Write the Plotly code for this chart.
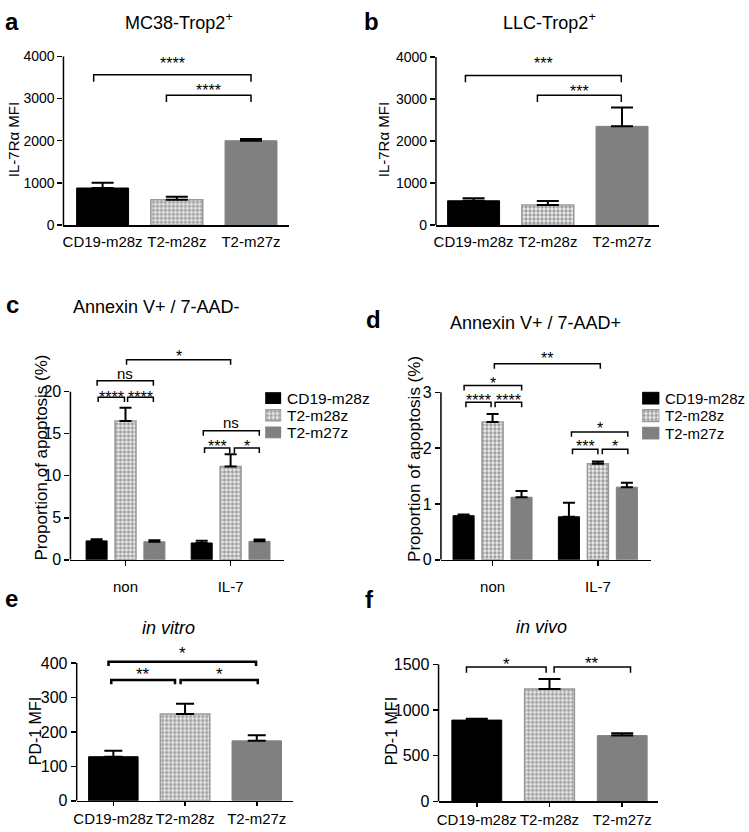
import plotly.graph_objects as go

W, H = 749, 832
FONT = "Liberation Sans, Arial, sans-serif"

# ---------------- data ----------------
groups = ["CD19-m28z", "T2-m28z", "T2-m27z"]
conditions = ["non", "IL-7"]

a_mean = [880, 600, 2000]
a_sem = [125, 75, 40]
b_mean = [580, 480, 2350]
b_sem = [60, 95, 450]

# panel c: Annexin V+ / 7-AAD-  (per group: [non, IL-7])
c_cd19 = [2.25, 2.0]
c_cd19_sem = [0.2, 0.28]
c_t2m28 = [16.5, 11.1]
c_t2m28_sem = [1.6, 1.45]
c_t2m27 = [2.15, 2.2]
c_t2m27_sem = [0.17, 0.2]

# panel d: Annexin V+ / 7-AAD+
d_cd19 = [0.79, 0.77]
d_cd19_sem = [0.02, 0.25]
d_t2m28 = [2.47, 1.72]
d_t2m28_sem = [0.14, 0.04]
d_t2m27 = [1.12, 1.30]
d_t2m27_sem = [0.11, 0.08]

e_mean = [128, 252, 174]
e_sem = [17, 30, 16]
f_mean = [890, 1230, 720]
f_sem = [15, 110, 25]

a_ticks = [0, 1000, 2000, 3000, 4000]
b_ticks = [0, 1000, 2000, 3000, 4000]
c_ticks = [0, 5, 10, 15, 20]
d_ticks = [0, 1, 2, 3]
e_ticks = [0, 100, 200, 300, 400]
f_ticks = [0, 500, 1000, 1500]

# significance brackets: (x_start, x_end, y, label)
a_sig = [(-0.12, 2.0, 3560, "****"), (0.86, 2.0, 3080, "****")]
b_sig = [(-0.11, 1.99, 3560, "***"), (0.86, 1.99, 3090, "***")]
c_sig = [(0.01, 1.0, 23.8, "*"), (-0.27, 0.265, 21.3, "ns"),
         (-0.26, -0.01, 19.35, "****"), (0.02, 0.265, 19.35, "****"),
         (0.74, 1.273, 15.35, "ns"), (0.752, 0.992, 13.3, "***"),
         (1.036, 1.273, 13.3, "*")]
d_sig = [(0.017, 1.023, 3.51, "**"), (-0.27, 0.276, 3.12, "*"),
         (-0.253, -0.014, 2.82, "****"), (0.024, 0.276, 2.82, "****"),
         (0.749, 1.284, 2.29, "*"), (0.759, 1.0, 1.98, "***"),
         (1.042, 1.284, 1.98, "*")]
e_sig = [(-0.067, 1.99, 404, "*"), (-0.029, 0.86, 351, "**"), (0.938, 2.014, 351, "*")]
f_sig = [(-0.142, 0.953, 1471, "*"), (1.063, 2.114, 1471, "**")]

# ---------------- styles ----------------
STYLE = {
    "CD19-m28z": dict(color="#000000", line=dict(color="#000000", width=1)),
    "T2-m28z": dict(color="#ffffff", line=dict(color="#9a9a9a", width=1.5),
                    pattern=dict(shape=".", size=4, solidity=0.55,
                                 fgcolor="#9c9c9c", bgcolor="#f2f2f2",
                                 fillmode="replace")),
    "T2-m27z": dict(color="#808080", line=dict(color="#808080", width=1)),
}


def px_x(p):
    return p / W


def px_y(p):
    return 1 - p / H


fig = go.Figure()

# panel layout specs (pixel boxes)
panels = {
    1: dict(box=(60.7, 287, 49.3, 221.7), tick_top_px=49.3, ticks=a_ticks,
            xr=(-0.5275, 2.51), xfont=15, yfont=14, xticks="", xticklen=5, cap=11,
            drop=7, lw=1.5, gaps=[15, 8], standoff=2, sfont=16),
    2: dict(box=(434.7, 659, 50, 221.7), tick_top_px=50, ticks=b_ticks,
            xr=(-0.507, 2.503), xfont=15, yfont=14, xticks="", xticklen=5, cap=11,
            drop=7, lw=1.5, gaps=[15.7, 7.7], standoff=2, sfont=16),
    3: dict(box=(67.7, 281.7, 345, 563.3), tick_top_px=391.7, ticks=c_ticks,
            xr=(-0.524, 1.504), xfont=15, yfont=16, xticks="outside", xticklen=5, cap=6,
            drop=5, lw=1.5, gaps=[7.6, 6.4, 4, 4, 7.4, 5.7, 5.7], standoff=8, sfont=16),
    4: dict(box=(439.7, 650.7, 350, 563.3), tick_top_px=392.3, ticks=d_ticks,
            xr=(-0.49, 1.505), xfont=15, yfont=16, xticks="outside", xticklen=5, cap=6,
            drop=5, lw=1.5, gaps=[9.3, 6.4, 5.4, 5.4, 7, 6.7, 6.7], standoff=8, sfont=16),
    5: dict(box=(74, 291, 660, 809.3), tick_top_px=668.7, ticks=e_ticks,
            xr=(-0.511, 2.503), xfont=15, yfont=16, xticks="outside", xticklen=4, cap=9,
            drop=4.5, lw=2.5, gaps=[12.3, 9.3, 9.3], standoff=0, sfont=17),
    6: dict(box=(437.3, 658, 670, 810), tick_top_px=670, ticks=f_ticks,
            xr=(-0.526, 2.497), xfont=15, yfont=16, xticks="outside", xticklen=4, cap=11,
            drop=6, lw=1.5, gaps=[6.7, 7.7], standoff=0, sfont=17),
}


def ax_names(n):
    return ("x" if n == 1 else f"x{n}"), ("y" if n == 1 else f"y{n}")


def add_single_panel(n, means, sems, width):
    xa, ya = ax_names(n)
    cap = panels[n]["cap"]
    for g, m, s in zip(groups, means, sems):
        fig.add_trace(go.Bar(
            x=[g], y=[m], width=width, xaxis=xa, yaxis=ya, showlegend=False,
            marker=STYLE[g],
            error_y=dict(type="data", array=[s], arrayminus=[0], symmetric=False,
                         color="black", thickness=2, width=cap),
            hoverinfo="skip"))


def add_group_panel(n, series):
    xa, ya = ax_names(n)
    cap = panels[n]["cap"]
    bw = 0.2
    step = 0.275
    for k, (g, (m, s)) in enumerate(zip(groups, series)):
        fig.add_trace(go.Bar(
            x=conditions, y=m, width=bw, offset=(k - 1) * step - bw / 2,
            xaxis=xa, yaxis=ya, name=g, showlegend=False,
            marker=STYLE[g],
            error_y=dict(type="data", array=s, arrayminus=[0] * len(s), symmetric=False,
                         color="black", thickness=2, width=cap),
            hoverinfo="skip"))


add_single_panel(1, a_mean, a_sem, 0.70)
add_single_panel(2, b_mean, b_sem, 0.70)
add_group_panel(3, [(c_cd19, c_cd19_sem), (c_t2m28, c_t2m28_sem), (c_t2m27, c_t2m27_sem)])
add_group_panel(4, [(d_cd19, d_cd19_sem), (d_t2m28, d_t2m28_sem), (d_t2m27, d_t2m27_sem)])
add_single_panel(5, e_mean, e_sem, 0.69)
add_single_panel(6, f_mean, f_sem, 0.685)

layout = dict(
    width=W, height=H, margin=dict(l=0, r=0, t=0, b=0, pad=0),
    paper_bgcolor="white", plot_bgcolor="white",
    font=dict(family=FONT, color="black", size=15),
    barmode="overlay", showlegend=False,
)

sig_sets = {1: a_sig, 2: b_sig, 3: c_sig, 4: d_sig, 5: e_sig, 6: f_sig}
shapes = []
annotations = []

for n, p in panels.items():
    l, r, t, b = p["box"]
    ymax_tick = p["ticks"][-1]
    upp = ymax_tick / (b - p["tick_top_px"])  # data units per pixel
    ymax = upp * (b - t)
    xa, ya = ax_names(n)
    cats = conditions if n in (3, 4) else groups
    layout["xaxis" if n == 1 else f"xaxis{n}"] = dict(
        domain=[px_x(l), px_x(r)], anchor=ya, type="category",
        categoryorder="array", categoryarray=cats, range=list(p["xr"]),
        showline=True, linecolor="black", linewidth=1.5, ticks=p["xticks"],
        ticklen=p["xticklen"], tickwidth=1.5, tickcolor="black", showgrid=False,
        zeroline=False, tickangle=0, tickfont=dict(size=p["xfont"]),
        ticklabelstandoff=p["standoff"], fixedrange=True)
    layout["yaxis" if n == 1 else f"yaxis{n}"] = dict(
        domain=[px_y(b), px_y(t)], anchor=xa, range=[0, ymax],
        tickvals=p["ticks"], ticks="outside", ticklen=5, tickwidth=1.5,
        tickcolor="black", showline=False, showgrid=False, zeroline=False,
        tickfont=dict(size=p["yfont"]), fixedrange=True)
    # y axis line up to the top tick
    shapes.append(dict(type="line", xref=f"{xa} domain", yref=ya, x0=0, x1=0,
                       y0=0, y1=ymax_tick, line=dict(color="black", width=1.5)))
    # significance brackets
    for (x0, x1, y, lab), gap in zip(sig_sets[n], p["gaps"]):
        d = p["drop"] * upp
        shapes.append(dict(type="path", xref=xa, yref=ya,
                           path=f"M{x0},{y - d} L{x0},{y} L{x1},{y} L{x1},{y - d}",
                           line=dict(color="black", width=p["lw"])))
        is_ns = lab == "ns"
        fs = 15 if is_ns else p["sfont"]
        shift = gap + 1.3 if is_ns else gap - 0.24 * fs
        annotations.append(dict(x=(x0 + x1) / 2, y=y, xref=xa, yref=ya, text=lab,
                                showarrow=False, yanchor="middle", xanchor="center",
                                yshift=shift, font=dict(size=fs)))

# ---------------- legends (swatches drawn as tiny bars on hidden axes) ----------------
legend_specs = {
    7: dict(xbox=(263.3, 279.3), ybox=(389.5, 442), bw=0.63, text_x=284, fs=15.5),
    8: dict(xbox=(641.7, 659), ybox=(389.4, 442.9), bw=0.67, text_x=664, fs=15),
}
for n, ls in legend_specs.items():
    xa, ya = f"x{n}", f"y{n}"
    for g in groups:
        fig.add_trace(go.Bar(x=[1], y=[g], orientation="h", width=ls["bw"], base=0,
                             xaxis=xa, yaxis=ya, showlegend=False, marker=STYLE[g],
                             hoverinfo="skip"))
    layout[f"xaxis{n}"] = dict(domain=[px_x(ls["xbox"][0]), px_x(ls["xbox"][1])],
                               range=[0, 1], visible=False, anchor=ya, fixedrange=True)
    layout[f"yaxis{n}"] = dict(domain=[px_y(ls["ybox"][1]), px_y(ls["ybox"][0])],
                               type="category", categoryorder="array",
                               categoryarray=groups[::-1], range=[-0.5, 2.5],
                               visible=False, anchor=xa, fixedrange=True)
    for k, g in enumerate(groups):
        annotations.append(dict(text=g, x=px_x(ls["text_x"]), y=g, xref="paper", yref=ya,
                                showarrow=False, xanchor="left", yanchor="middle",
                                borderpad=0, font=dict(size=ls["fs"])))

# titles, panel letters, axis titles
texts = [
    ("MC38-Trop2<sup>+</sup>", 176.7, 14, 18, 0),
    ("LLC-Trop2<sup>+</sup>", 548.7, 14, 18, 0),
    ("Annexin V+ / 7-AAD-", 154.2, 305, 18, 0),
    ("Annexin V+ / 7-AAD+", 535, 321.7, 18, 0),
    ("<i>in vitro</i>", 166, 633.3, 18, 0),
    ("<i>in vivo</i>", 541, 631.7, 18, 0),
    ("IL-7Rα MFI", 10, 134, 15, -90),
    ("IL-7Rα MFI", 381.5, 134, 15, -90),
    ("Proportion of apoptosis (%)", 39, 459, 17, -90),
    ("Proportion of apoptosis (%)", 413, 460, 17, -90),
    ("PD-1 MFI", 33, 738.5, 16, -90),
    ("PD-1 MFI", 390, 738, 16, -90),
]
for txt, x, y, fs, ang in texts:
    annotations.append(dict(text=txt, x=px_x(x), y=px_y(y), xref="paper", yref="paper",
                            showarrow=False, xanchor="center", yanchor="middle",
                            textangle=ang, borderpad=0, font=dict(size=fs)))

letters = [("a", 9, 14), ("b", 370, 14), ("c", 10, 303), ("d", 372, 318),
           ("e", 9, 603), ("f", 368, 604)]
for txt, x, y in letters:
    annotations.append(dict(text=f"<b>{txt}</b>", x=px_x(x), y=px_y(y), xref="paper",
                            yref="paper", showarrow=False, xanchor="center",
                            yanchor="middle", borderpad=0, font=dict(size=24)))

layout["shapes"] = shapes
layout["annotations"] = annotations

fig.update_layout(**layout)

# static plot (no drag/hover layers) and no page margin so the figure fills the window
fig.write_html(
    "out.html", config=dict(displayModeBar=False, staticPlot=True),
    post_script="var s=document.createElement('style');"
                "s.innerHTML='html,body{margin:0!important;padding:0!important;"
                "overflow:hidden!important}';document.head.appendChild(s);")
